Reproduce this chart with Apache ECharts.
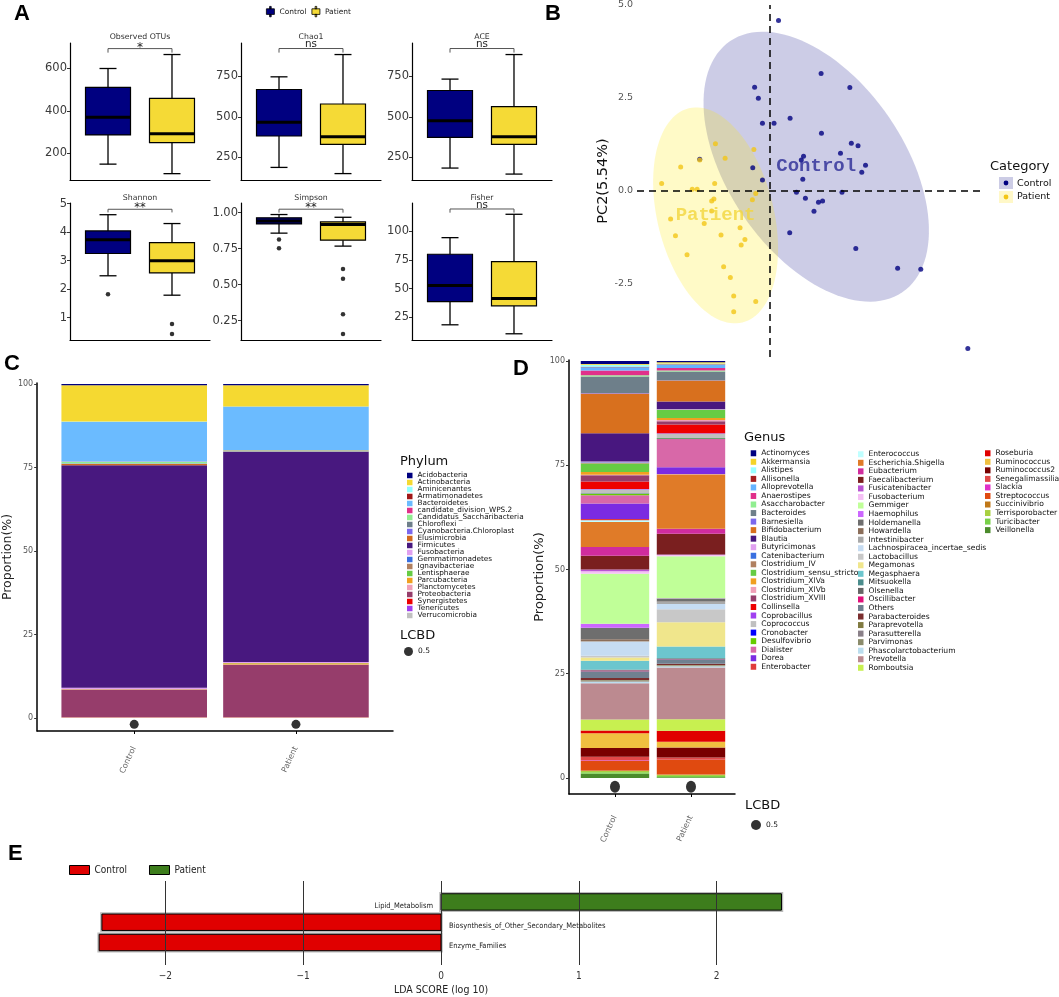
<!DOCTYPE html>
<html><head><meta charset="utf-8">
<script src="https://cdn.jsdelivr.net/npm/echarts@6/dist/echarts.min.js"></script>
<style>html,body{margin:0;padding:0;background:#fff}#chart{width:1059px;height:997px}</style>
</head><body><div id="chart"></div>
<script>
// ---------------- DATA ----------------
const groups = ['Control', 'Patient'];

// Panel A: alpha diversity, boxes as [lowerWhisker, Q1, median, Q3, upperWhisker]
const alphaTitles = ['Observed OTUs', 'Chao1', 'ACE', 'Shannon', 'Simpson', 'Fisher'];
const alphaSig = ['*', 'ns', 'ns', '**', '**', 'ns'];
const otusControl = [148, 286, 369, 511, 600];
const otusPatient = [103, 250, 291, 459, 666];
const chao1Control = [189, 382, 466, 668, 746];
const chao1Patient = [151, 331, 378, 579, 883];
const aceControl = [185, 374, 476, 662, 732];
const acePatient = [148, 331, 378, 563, 883];
const shannonControl = [2.47, 3.25, 3.73, 4.04, 4.61];
const shannonPatient = [1.79, 2.57, 3.0, 3.63, 4.30];
const simpsonControl = [0.857, 0.921, 0.942, 0.963, 0.986];
const simpsonPatient = [0.767, 0.808, 0.917, 0.935, 0.967];
const fisherControl = [18.5, 38.7, 52.6, 79.8, 94.2];
const fisherPatient = [10.7, 35, 41.3, 73.4, 114.5];
const outliersControl = [[], [], [], [1.82], [0.813, 0.753], []];
const outliersPatient = [[], [], [], [0.78, 0.43], [0.608, 0.541, 0.295, 0.158], []];
const alphaTicks = [[200, 400, 600], [250, 500, 750], [250, 500, 750], [1, 2, 3, 4, 5], [0.25, 0.5, 0.75, 1.0], [25, 50, 75, 100]];

// Panel B: PCA scores [PC1, PC2]
const pcaControl = [[0.23,4.58],[1.37,3.16],[2.14,2.78],[-0.41,2.79],[-0.31,2.49],[-0.20,1.82],[0.11,1.82],[0.54,1.95],[1.38,1.55],[2.18,1.28],[2.36,1.21],[1.89,1.01],[0.90,0.93],[0.84,0.83],[-0.46,0.62],[2.56,0.69],[2.46,0.50],[-0.20,0.29],[0.88,0.31],[0.71,-0.04],[1.93,-0.04],[0.95,-0.20],[1.41,-0.27],[1.30,-0.31],[1.18,-0.55],[0.53,-1.13],[2.30,-1.55],[3.42,-2.08],[4.04,-2.11],[5.30,-4.24],[-1.88,0.85]];
const pcaPatient = [[-1.46,1.27],[-0.43,1.11],[-1.20,0.88],[-1.88,0.83],[-2.39,0.64],[-2.90,0.20],[-1.48,0.20],[-2.08,0.04],[-1.95,0.04],[-0.38,-0.07],[-1.50,-0.22],[-1.56,-0.27],[-0.47,-0.24],[-1.56,-0.54],[-2.66,-0.76],[-1.76,-0.88],[-0.80,-0.99],[-2.53,-1.21],[-1.31,-1.19],[-0.67,-1.31],[-0.77,-1.46],[-2.22,-1.72],[-1.24,-2.04],[-1.06,-2.33],[-0.97,-2.83],[-0.38,-2.98],[-0.97,-3.25]];
// confidence ellipses: [centerX, centerY, semiMajor, semiMinor, angleDeg]
const ellipseControl = [1.24, 0.65, 4.09, 2.36, -55.7];
const ellipsePatient = [-1.455, -0.66, 2.97, 1.557, -76];

// Panel C: phylum composition (%)
const phyla = ['Acidobacteria','Actinobacteria','Aminicenantes','Armatimonadetes','Bacteroidetes','candidate_division_WPS.2','Candidatus_Saccharibacteria','Chloroflexi','Cyanobacteria.Chloroplast','Elusimicrobia','Firmicutes','Fusobacteria','Gemmatimonadetes','Ignavibacteriae','Lentisphaerae','Parcubacteria','Planctomycetes','Proteobacteria','Synergistetes','Tenericutes','Verrucomicrobia'];
const phylumColors = ['#00007F','#F5D931','#8FFFFF','#A01818','#6BBBFF','#E0308A','#90EE90','#6E7F8A','#7B68EE','#D2691E','#48187F','#E0A0F0','#3A70E0','#B08060','#66CC44','#F0A020','#F0A0B8','#963D6B','#EE0000','#A040F0','#C0C0C0'];
const phylumControl = [0.4,10.85,0.05,0.02,11.9,0.05,0.5,0.05,0.1,0.4,66.6,0.4,0.02,0.02,0.02,0.1,0.05,8.2,0.02,0.05,0.2];
const phylumPatient = [0.4,6.3,0.05,0.02,13.0,0.05,0.3,0.05,0.05,0.1,62.9,0.3,0.02,0.02,0.02,0.4,0.05,15.7,0.02,0.05,0.2];

// Panel D: genus composition (%)
const genera = ['Actinomyces','Akkermansia','Alistipes','Allisonella','Alloprevotella','Anaerostipes','Asaccharobacter','Bacteroides','Barnesiella','Bifidobacterium','Blautia','Butyricimonas','Catenibacterium','Clostridium_IV','Clostridium_sensu_stricto','Clostridium_XlVa','Clostridium_XlVb','Clostridium_XVIII','Collinsella','Coprobacillus','Coprococcus','Cronobacter','Desulfovibrio','Dialister','Dorea','Enterobacter','Enterococcus','Escherichia.Shigella','Eubacterium','Faecalibacterium','Fusicatenibacter','Fusobacterium','Gemmiger','Haemophilus','Holdemanella','Howardella','Intestinibacter','Lachnospiracea_incertae_sedis','Lactobacillus','Megamonas','Megasphaera','Mitsuokella','Olsenella','Oscillibacter','Others','Parabacteroides','Paraprevotella','Parasutterella','Parvimonas','Phascolarctobacterium','Prevotella','Romboutsia','Roseburia','Ruminococcus','Ruminococcus2','Senegalimassilia','Slackia','Streptococcus','Succinivibrio','Terrisporobacter','Turicibacter','Veillonella'];
const genusColors = ['#000080','#F5D327','#99FFFF','#A52020','#66B3FF','#E0308A','#90EE90','#6E7F8A','#7B68EE','#D8701E','#48177F','#E0A0F0','#3A70E0','#B08060','#66CC44','#F0A020','#F0A0B8','#963D6B','#EE0000','#A040F0','#C0C0C0','#0000FF','#66CC00','#D868A8','#7B2BE2','#E03C3C','#BFFFFF','#E07B28','#D02C9E','#7A1F1F','#BA55D3','#F5C0F5','#C0FF98','#CC66FF','#6E6E6E','#8B6E5A','#A9A9A9','#C6DCF2','#C8C8C8','#F0E68C','#6CC6CE','#4A8C8C','#666666','#E0107A','#708090','#7A2E2E','#807A40','#8A8088','#8B8B6B','#BBDDEE','#BC8A90','#C8F050','#E00000','#F0C040','#780000','#E04848','#E030C8','#E04A10','#C07818','#A8D040','#78D048','#4B8B2B'];
const genusControl = [0.7,0.2,0.5,0.1,0.8,1.1,0.3,4.0,0.1,9.5,6.8,0.2,0.1,0.2,2.0,0.7,0.1,1.5,1.8,0.1,0.9,0.1,0.4,2.0,3.7,0.3,0.4,6.0,2.1,3.3,0.4,0.6,12.0,1.0,2.7,0.5,0.1,3.4,0.4,0.8,2.1,0.1,0.1,0.2,1.6,0.5,0.1,0.2,0.1,0.4,8.7,2.6,0.7,3.5,2.1,0.8,0.1,2.4,0.1,0.3,0.4,1.0];
const genusPatient = [0.3,0.3,0.2,0.1,0.8,0.6,0.2,2.1,0.1,5.0,1.8,0.1,0.05,0.1,1.9,0.5,0.3,0.8,2.1,0.1,1.0,0.05,0.2,6.8,1.6,0.05,0.05,13.0,1.2,5.0,0.1,0.3,10.1,0.05,0.7,0.1,0.5,1.3,3.1,5.8,2.8,0.1,0.1,0.05,1.1,0.3,0.1,0.1,0.1,0.3,12.4,2.8,2.6,1.4,2.4,0.5,0.05,3.5,0.05,0.3,0.3,0.2];
const lcbd = [0.5, 0.5];

// Panel E: LEfSe LDA scores
const ldaFeatures = ['Lipid_Metabolism', 'Biosynthesis_of_Other_Secondary_Metabolites', 'Enzyme_Families'];
const ldaScores = [2.47, -2.46, -2.48];
const ldaClass = ['Patient', 'Control', 'Control'];
const ldaTicks = [-2, -1, 0, 1, 2];

// ---------------- LAYOUT / STYLE ----------------
const FONT = "'DejaVu Sans', Verdana, sans-serif";
const NARROW = "'Liberation Sans Narrow', 'DejaVu Sans Condensed', sans-serif";
const boxColors = {Control: '#000080', Patient: '#F5DA36'};
const pcaColors = {Control: '#000080', Patient: '#F3C516'};
const ldaColors = {Control: '#E00000', Patient: '#3D7D1C'};

const aGrids = [
  {left: 70, top: 43}, {left: 241, top: 43}, {left: 412, top: 43},
  {left: 70, top: 203}, {left: 241, top: 203}, {left: 412, top: 203}
];
const aYRange = [[73, 720.5], [111.6, 954], [111.6, 954], [0.22, 5.02], [0.116, 1.066], [5.3, 124.3]];
const aBracket = [[694, 675], [920, 895], [920, 895], [4.80, 4.69], [1.023, 0.999], [119.1, 115.9]];
const boxes = [
  [otusControl, otusPatient], [chao1Control, chao1Patient], [aceControl, acePatient],
  [shannonControl, shannonPatient], [simpsonControl, simpsonPatient], [fisherControl, fisherPatient]
];

const grid = [], xAxis = [], yAxis = [], series = [];
aGrids.forEach((g, i) => {
  grid.push({left: g.left, top: g.top, width: 140, height: 137});
  xAxis.push({type: 'value', gridIndex: i, min: -0.594, max: 1.594,
    axisLine: {show: true, onZero: false, lineStyle: {color: '#000', width: 1.2}},
    axisTick: {show: false}, axisLabel: {show: false}, splitLine: {show: false}});
  yAxis.push({type: 'value', gridIndex: i, min: aYRange[i][0], max: aYRange[i][1],
    axisLine: {show: true, onZero: false, lineStyle: {color: '#000', width: 1.2}},
    axisTick: {show: true, customValues: alphaTicks[i], length: 3, lineStyle: {color: '#333'}},
    axisLabel: {customValues: alphaTicks[i], fontSize: 11.5, color: '#3a3a3a', margin: 3, fontFamily: FONT,
      formatter: v => (i === 4 ? v.toFixed(2) : String(v))},
    splitLine: {show: false}});
});

function boxRender(params, api) {
  const x = api.value(0);
  const lo = api.coord([x, api.value(1)]), q1 = api.coord([x, api.value(2)]), md = api.coord([x, api.value(3)]);
  const q3 = api.coord([x, api.value(4)]), hi = api.coord([x, api.value(5)]);
  const cx = lo[0], w = 45, cw = 17;
  const ls = {stroke: '#000', lineWidth: 1.3};
  return {type: 'group', children: [
    {type: 'line', shape: {x1: cx, y1: hi[1], x2: cx, y2: q3[1]}, style: ls},
    {type: 'line', shape: {x1: cx, y1: q1[1], x2: cx, y2: lo[1]}, style: ls},
    {type: 'line', shape: {x1: cx - cw / 2, y1: hi[1], x2: cx + cw / 2, y2: hi[1]}, style: ls},
    {type: 'line', shape: {x1: cx - cw / 2, y1: lo[1], x2: cx + cw / 2, y2: lo[1]}, style: ls},
    {type: 'rect', shape: {x: cx - w / 2, y: q3[1], width: w, height: q1[1] - q3[1]},
      style: {fill: api.visual('color'), stroke: '#000', lineWidth: 1.2}},
    {type: 'line', shape: {x1: cx - w / 2, y1: md[1], x2: cx + w / 2, y2: md[1]}, style: {stroke: '#000', lineWidth: 3}}
  ]};
}

aGrids.forEach((g, i) => {
  groups.forEach((grp, gi) => {
    series.push({type: 'custom', name: 'A:' + grp, xAxisIndex: i, yAxisIndex: i,
      itemStyle: {color: boxColors[grp]}, renderItem: boxRender, silent: true,
      data: [[gi].concat(boxes[i][gi])]});
  });
  const outs = [];
  outliersControl[i].forEach(v => outs.push([0, v]));
  outliersPatient[i].forEach(v => outs.push([1, v]));
  if (outs.length) series.push({type: 'scatter', xAxisIndex: i, yAxisIndex: i, symbolSize: 4.5,
    itemStyle: {color: '#000'}, data: outs, silent: true});
  series.push({type: 'custom', xAxisIndex: i, yAxisIndex: i, silent: true, z: 5,
    data: [aBracket[i]],
    renderItem: (params, api) => {
      const a = api.coord([0, api.value(0)]), b = api.coord([1, api.value(0)]), t = api.coord([0, api.value(1)]);
      const top = i < 3, star = alphaSig[i].indexOf('*') >= 0;
      const cxm = (a[0] + b[0]) / 2;
      return {type: 'group', children: [
        {type: 'polyline', shape: {points: [[a[0], t[1]], [a[0], a[1]], [b[0], a[1]], [b[0], t[1]]]},
          style: {stroke: '#555', fill: null, lineWidth: 1}},
        {type: 'text', x: cxm, y: a[1] - (top ? 12 : 11.5),
          style: {text: alphaTitles[i], align: 'center', verticalAlign: 'middle', fontSize: 7.8, fill: '#333', fontFamily: FONT}},
        {type: 'text', x: cxm, y: a[1] - (star ? (top ? 0.4 : 1.2) : (top ? 4 : 3.3)),
          style: {text: alphaSig[i], align: 'center', verticalAlign: 'middle', fontSize: star ? (top ? 12 : 11.5) : 10.4, fill: '#222', fontFamily: FONT}}
      ]};
    }});
});

// ---- Panel B ----
const gB = 6;
grid.push({left: 637, top: 3, width: 348, height: 354});
xAxis.push({type: 'value', gridIndex: gB, min: -3.56, max: 5.76, show: false});
yAxis.push({type: 'value', gridIndex: gB, min: -4.47, max: 5.0,
  axisLine: {show: false}, axisTick: {show: false}, splitLine: {show: false},
  axisLabel: {customValues: [-2.5, 0, 2.5, 5.0], formatter: v => v.toFixed(1), color: '#555', fontSize: 9.5, margin: 4, fontFamily: FONT},
  name: 'PC2(5.54%)', nameLocation: 'middle', nameGap: 22, nameTextStyle: {fontSize: 14.5, color: '#111', fontFamily: FONT}});

function ellipseRender(params, api) {
  const cx = api.value(0), cy = api.value(1), a = api.value(2), b = api.value(3), ang = api.value(4) * Math.PI / 180;
  const pts = [];
  for (let k = 0; k < 120; k++) {
    const t = 2 * Math.PI * k / 120, ex = a * Math.cos(t), ey = b * Math.sin(t);
    pts.push(api.coord([cx + ex * Math.cos(ang) - ey * Math.sin(ang), cy + ex * Math.sin(ang) + ey * Math.cos(ang)]));
  }
  return {type: 'polygon', shape: {points: pts}, style: {fill: api.visual('color')}};
}
series.push({type: 'custom', xAxisIndex: gB, yAxisIndex: gB, silent: true, renderItem: ellipseRender,
  itemStyle: {color: 'rgba(0,0,128,0.2)'}, data: [ellipseControl]});
series.push({type: 'custom', xAxisIndex: gB, yAxisIndex: gB, silent: true, renderItem: ellipseRender,
  itemStyle: {color: 'rgba(255,232,0,0.22)'}, data: [ellipsePatient]});
series.push({type: 'scatter', name: 'B:Control', xAxisIndex: gB, yAxisIndex: gB, symbolSize: 5,
  itemStyle: {color: pcaColors.Control}, data: pcaControl, silent: true,
  markLine: {silent: true, symbol: ['none', 'none'], label: {show: false},
    lineStyle: {color: '#000', width: 1.5, type: [7, 5]}, data: [{xAxis: 0}, {yAxis: 0}]}});
series.push({type: 'scatter', name: 'B:Patient', xAxisIndex: gB, yAxisIndex: gB, symbolSize: 5,
  itemStyle: {color: pcaColors.Patient}, data: pcaPatient, silent: true});
series.push({type: 'scatter', xAxisIndex: gB, yAxisIndex: gB, symbolSize: 0, silent: true,
  data: [
    {value: [ellipseControl[0], ellipseControl[1]], label: {formatter: 'Control', color: '#2B2B96'}},
    {value: [ellipsePatient[0], ellipsePatient[1]], label: {formatter: 'Patient', color: '#F2D63C'}}
  ],
  label: {show: true, position: 'inside', fontFamily: "'Liberation Mono', 'DejaVu Sans Mono', monospace", fontSize: 19, fontWeight: 'bold'}});

// stacked composition bars drawn with a custom series: [x, base, top]
function stackRender(params, api) {
  const x = api.value(0);
  const p0 = api.coord([x, api.value(1)]), p1 = api.coord([x, api.value(2)]);
  const w = api.size([0.9, 0])[0];
  return {type: 'rect', shape: {x: p0[0] - w / 2, y: p1[1], width: w, height: p0[1] - p1[1]},
    style: {fill: api.visual('color')}};
}
function addStack(names, colors, ctrl, pat, axisIdx) {
  const cum = [0, 0];
  for (let k = names.length - 1; k >= 0; k--) {
    const vals = [ctrl[k], pat[k]];
    const data = vals.map((v, x) => { const b = cum[x]; cum[x] += v; return [x, b, cum[x]]; });
    series.push({type: 'custom', name: names[k], xAxisIndex: axisIdx, yAxisIndex: axisIdx, silent: true,
      itemStyle: {color: colors[k]}, renderItem: stackRender, data: data});
  }
}

// ---- Panel C ----
const gC = 7;
grid.push({left: 31, top: 383, width: 362, height: 348});
xAxis.push({type: 'value', gridIndex: gC, min: -0.6, max: 1.6,
  axisLine: {show: true, onZero: false, lineStyle: {color: '#000', width: 1.5}},
  axisTick: {show: true, customValues: [0, 1], length: 3, lineStyle: {color: '#000'}},
  axisLabel: {customValues: [0, 1], formatter: v => groups[v], rotate: 65, fontSize: 8, color: '#666', margin: 16, fontFamily: FONT},
  splitLine: {show: false}});
yAxis.push({type: 'value', gridIndex: gC, min: -3.89, max: 100.3,
  axisLine: {show: true, onZero: false, lineStyle: {color: '#000', width: 1.5}},
  axisTick: {show: true, customValues: [0, 25, 50, 75, 100], length: 3, lineStyle: {color: '#333'}},
  axisLabel: {customValues: [0, 25, 50, 75, 100], fontSize: 8, color: '#555', margin: 4, fontFamily: FONT},
  splitLine: {show: false},
  name: 'Proportion(%)', nameLocation: 'middle', nameGap: 13.5, nameTextStyle: {fontSize: 12.5, color: '#222', fontFamily: FONT}});
addStack(phyla, phylumColors, phylumControl, phylumPatient, gC);
series.push({type: 'scatter', name: 'C:LCBD', xAxisIndex: gC, yAxisIndex: gC, symbolSize: 9, silent: true,
  itemStyle: {color: '#000'}, data: lcbd.map((v, i) => [i, -1.9])});

// ---- Panel D ----
const gD = 8;
grid.push({left: 569, top: 360, width: 166, height: 434});
xAxis.push({type: 'value', gridIndex: gD, min: -0.605, max: 1.579,
  axisLine: {show: true, onZero: false, lineStyle: {color: '#000', width: 1.5}},
  axisTick: {show: true, customValues: [0, 1], length: 3, lineStyle: {color: '#000'}},
  axisLabel: {customValues: [0, 1], formatter: v => groups[v], rotate: 65, fontSize: 8, color: '#666', margin: 22, fontFamily: FONT},
  splitLine: {show: false}});
yAxis.push({type: 'value', gridIndex: gD, min: -3.84, max: 100.24,
  axisLine: {show: true, onZero: false, lineStyle: {color: '#000', width: 1.5}},
  axisTick: {show: true, customValues: [0, 25, 50, 75, 100], length: 3, lineStyle: {color: '#333'}},
  axisLabel: {customValues: [0, 25, 50, 75, 100], fontSize: 8, color: '#555', margin: 4, fontFamily: FONT},
  splitLine: {show: false},
  name: 'Proportion(%)', nameLocation: 'middle', nameGap: 18, nameTextStyle: {fontSize: 13, color: '#222', fontFamily: FONT}});
addStack(genera, genusColors, genusControl, genusPatient, gD);
series.push({type: 'scatter', name: 'D:LCBD', xAxisIndex: gD, yAxisIndex: gD, symbolSize: [10, 12], silent: true,
  itemStyle: {color: '#000'}, data: lcbd.map((v, i) => [i, -2.1])});

// ---- Panel E ----
const gE = 9;
grid.push({left: 82.6, top: 881, width: 716.8, height: 87});
xAxis.push({type: 'value', gridIndex: gE, min: -2.6, max: 2.6,
  axisLine: {show: false}, axisTick: {show: false}, splitLine: {show: false},
  axisLabel: {customValues: ldaTicks, formatter: v => (v < 0 ? '\u2212' + Math.abs(v) : String(v)), fontSize: 10, color: '#333', margin: 6, fontFamily: NARROW},
  name: 'LDA SCORE (log 10)', nameLocation: 'middle', nameGap: 20, nameTextStyle: {fontSize: 10.5, color: '#222', fontFamily: NARROW}});
yAxis.push({type: 'value', gridIndex: gE, inverse: true, min: -1.033, max: 3.11, show: false});

function ldaRender(params, api) {
  const v = api.value(0), row = api.value(1);
  const p0 = api.coord([0, row]), p1 = api.coord([v, row]);
  const h = api.size([0, 1])[1] * 0.81;
  const x = Math.min(p0[0], p1[0]), w = Math.abs(p1[0] - p0[0]);
  const pos = v > 0;
  return {type: 'group', children: [
    {type: 'rect', shape: {x: x - 1, y: p0[1] - h / 2 - 1, width: w + 2, height: h + 2}, style: {fill: null, stroke: '#bbb', lineWidth: 1.5}},
    {type: 'rect', shape: {x: x, y: p0[1] - h / 2, width: w, height: h}, style: {fill: api.visual('color'), stroke: '#000', lineWidth: 1}},
    {type: 'text', x: pos ? p0[0] - 8 : p0[0] + 8, y: p0[1] + 4,
      style: {text: ldaFeatures[row], align: pos ? 'right' : 'left', verticalAlign: 'middle', fontSize: 7.5, fill: '#222', fontFamily: NARROW}}
  ]};
}
['Control', 'Patient'].forEach(cls => {
  const data = [];
  ldaScores.forEach((s, r) => { if (ldaClass[r] === cls) data.push([s, r]); });
  const s = {type: 'custom', name: 'E:' + cls, xAxisIndex: gE, yAxisIndex: gE, silent: true,
    itemStyle: {color: ldaColors[cls]}, renderItem: ldaRender, data: data};
  if (cls === 'Patient') {
    s.markLine = {silent: true, symbol: ['none', 'none'], label: {show: false}, z: 10,
      lineStyle: {color: '#333', width: 1, type: 'solid'}, data: ldaTicks.map(t => ({xAxis: t}))};
  }
  series.push(s);
});

// ---------------- LEGENDS ----------------
const strip = n => n.split(':')[1];
const boxIcon = 'path://M4,0h2v3h-2z M0,3h10v7h-10z M4,10h2v3h-2z';
const legend = [
  {left: 266, top: 6, itemWidth: 8, itemHeight: 11, itemGap: 5, padding: 0, selectedMode: false, formatter: strip,
    textStyle: {fontSize: 7.5, color: '#222', fontFamily: FONT}, itemStyle: {borderColor: '#000', borderWidth: 0.8},
    data: [{name: 'A:Control', icon: boxIcon}, {name: 'A:Patient', icon: boxIcon}]},
  {left: 69, top: 865, itemWidth: 20, itemHeight: 9, itemGap: 22, padding: 0, selectedMode: false, formatter: strip,
    textStyle: {fontSize: 10, color: '#222', fontFamily: NARROW}, itemStyle: {borderColor: '#000', borderWidth: 1},
    data: [{name: 'E:Control', icon: 'rect'}, {name: 'E:Patient', icon: 'rect'}]},
  {left: 407, top: 472, orient: 'vertical', itemWidth: 5.5, itemHeight: 5.5, itemGap: 0, padding: 0, selectedMode: false, icon: 'rect',
    textStyle: {fontSize: 7.3, lineHeight: 6.82, color: '#111', fontFamily: FONT}, data: phyla},
  {left: 750.7, top: 449, orient: 'vertical', itemWidth: 5.5, itemHeight: 6, itemGap: 0, padding: 0, selectedMode: false, icon: 'rect',
    textStyle: {fontSize: 7.6, lineHeight: 8.54, color: '#111', fontFamily: FONT}, data: genera.slice(0, 26)},
  {left: 858, top: 450, orient: 'vertical', itemWidth: 5.5, itemHeight: 6, itemGap: 0, padding: 0, selectedMode: false, icon: 'rect',
    textStyle: {fontSize: 7.6, lineHeight: 8.54, color: '#111', fontFamily: FONT}, data: genera.slice(26, 52)},
  {left: 985, top: 449, orient: 'vertical', itemWidth: 5.5, itemHeight: 6, itemGap: 0, padding: 0, selectedMode: false, icon: 'rect',
    textStyle: {fontSize: 7.6, lineHeight: 8.54, color: '#111', fontFamily: FONT}, data: genera.slice(52)},
  {left: 404, top: 647, itemWidth: 9, itemHeight: 9, padding: 0, selectedMode: false, formatter: () => String(lcbd[0]),
    textStyle: {fontSize: 7.5, color: '#111', fontFamily: FONT}, data: [{name: 'C:LCBD', icon: 'circle'}]},
  {left: 751, top: 820, itemWidth: 10, itemHeight: 11, padding: 0, selectedMode: false, formatter: () => String(lcbd[1]),
    textStyle: {fontSize: 7.5, color: '#111', fontFamily: FONT}, data: [{name: 'D:LCBD', icon: 'circle'}]}
];

// ---------------- DECORATIVE TEXT ----------------
const letter = (t, x, y) => ({type: 'text', x: x, y: y, style: {text: t, fontSize: 22, fontWeight: 'bold', fill: '#000', fontFamily: "'Liberation Sans', Arial, sans-serif", align: 'left', verticalAlign: 'top'}});
const label = (t, x, y, fs) => ({type: 'text', x: x, y: y, style: {text: t, fontSize: fs, fill: '#111', fontFamily: FONT, align: 'left', verticalAlign: 'middle'}});
const graphic = [
  letter('A', 14, 3), letter('B', 545, 3), letter('C', 4, 353), letter('D', 513, 358), letter('E', 8, 843),
  label('Phylum', 400, 462, 13), label('Genus', 744, 438, 13), label('LCBD', 400, 636, 13), label('LCBD', 745, 806, 13),
  label('Category', 990, 167, 13),
  {type: 'rect', shape: {x: 999, y: 177, width: 14, height: 12}, style: {fill: '#CCCCE5'}},
  {type: 'rect', shape: {x: 999, y: 191, width: 14, height: 12}, style: {fill: '#FFF8C8'}},
  {type: 'circle', shape: {cx: 1006, cy: 183, r: 2.4}, style: {fill: pcaColors.Control}},
  {type: 'circle', shape: {cx: 1006, cy: 197, r: 2.4}, style: {fill: pcaColors.Patient}},
  label('Control', 1017, 184, 9.5), label('Patient', 1017, 197, 9.5)
];

const chart = echarts.init(document.getElementById('chart'), null, {renderer: 'canvas', width: 1059, height: 997});
chart.setOption({
  backgroundColor: '#fff', animation: false,
  textStyle: {fontFamily: FONT},
  grid: grid, xAxis: xAxis, yAxis: yAxis, series: series, legend: legend, graphic: graphic
});
</script></body></html>
